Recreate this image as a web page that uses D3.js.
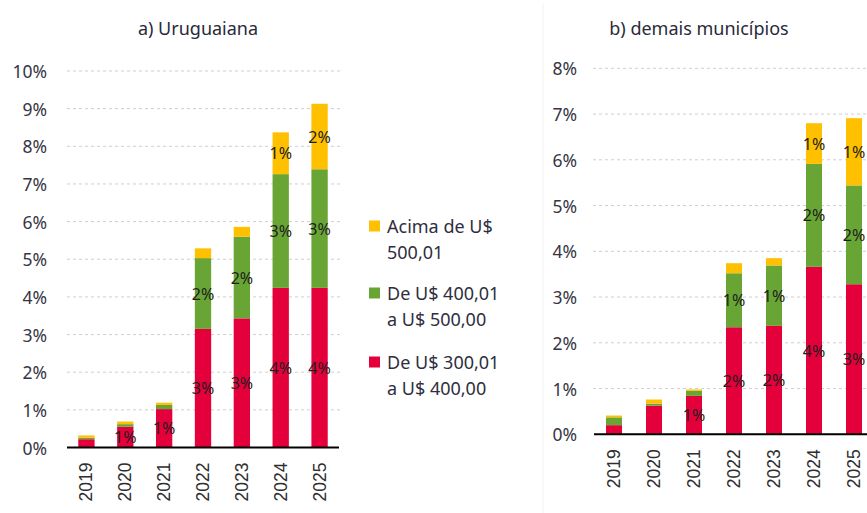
<!DOCTYPE html>
<html>
<head>
<meta charset="utf-8">
<script src="https://cdn.jsdelivr.net/npm/d3@7/dist/d3.min.js"></script>
<style>
  html, body { margin: 0; padding: 0; background: #ffffff; }
  svg { display: block; }
</style>
</head>
<body>
<svg id="chart" width="867" height="513"></svg>
<script>
// ---- data ----
const years = ['2019', '2020', '2021', '2022', '2023', '2024', '2025'];
const seriesNames = ['De U$ 300,01\na U$ 400,00', 'De U$ 400,01\na U$ 500,00', 'Acima de U$\n500,01'];

// a) Uruguaiana (% values)
const uru300to400 = [0.22, 0.55, 1.02, 3.15, 3.43, 4.24, 4.24];
const uru400to500 = [0.04, 0.07, 0.11, 1.88, 2.17, 3.02, 3.15];
const uruAbove500 = [0.06, 0.07, 0.06, 0.26, 0.26, 1.11, 1.74];
const uruLabels300 = ['', '1%', '1%', '3%', '3%', '4%', '4%'];
const uruLabels400 = ['', '', '', '2%', '2%', '3%', '3%'];
const uruLabelsAbove = ['', '', '', '', '', '1%', '2%'];
const uruTicks = [0, 1, 2, 3, 4, 5, 6, 7, 8, 9, 10];

// b) demais municípios (% values)
const dem300to400 = [0.20, 0.625, 0.84, 2.34, 2.37, 3.66, 3.28];
const dem400to500 = [0.17, 0.045, 0.11, 1.18, 1.32, 2.25, 2.16];
const demAbove500 = [0.04, 0.09, 0.03, 0.22, 0.16, 0.89, 1.47];
const demLabels300 = ['', '', '1%', '2%', '2%', '4%', '3%'];
const demLabels400 = ['', '', '', '1%', '1%', '2%', '2%'];
const demLabelsAbove = ['', '', '', '', '', '1%', '1%'];
const demTicks = [0, 1, 2, 3, 4, 5, 6, 7, 8];

// ---- styles ----
const colors = ['#E4003B', '#68A535', '#FFC000'];
const tickFont = '"Noto Sans", sans-serif';
const svg = d3.select('#chart');

// light panel border of right chart
svg.append('line')
  .attr('x1', 543).attr('x2', 543).attr('y1', 4).attr('y2', 513)
  .attr('stroke', '#f2f2f2').attr('stroke-width', 1);

function drawPanel(opt) {
  const g = svg.append('g');
  const x = d3.scaleBand().domain(years).range(opt.xRange)
    .paddingInner(opt.padIn).paddingOuter(opt.padIn / 2);
  const y = d3.scaleLinear().domain([0, d3.max(opt.ticks)]).range(opt.yRange);

  // gridlines
  g.append('g').selectAll('line').data(opt.ticks.filter(t => t > 0)).join('line')
    .attr('x1', opt.gridX[0]).attr('x2', opt.gridX[1])
    .attr('y1', d => y(d)).attr('y2', d => y(d))
    .attr('stroke', '#cfcfcf').attr('stroke-width', 1).attr('stroke-dasharray', '3,3');

  // y tick labels
  g.append('g').selectAll('text').data(opt.ticks).join('text')
    .attr('x', opt.labelX).attr('y', d => y(d))
    .attr('text-anchor', 'end').attr('dominant-baseline', 'central')
    .attr('font-family', tickFont).attr('font-size', 17.5)
    .attr('fill', '#353543')
    .text(d => d + '%');

  // stacked bars
  const rows = years.map((yr, i) => ({ year: yr, s0: opt.series[0][i], s1: opt.series[1][i], s2: opt.series[2][i] }));
  const stack = d3.stack().keys(['s0', 's1', 's2'])(rows);
  const labels = opt.labels;
  stack.forEach((layer, li) => {
    g.append('g').selectAll('rect').data(layer).join('rect')
      .attr('x', d => x(d.data.year))
      .attr('width', x.bandwidth())
      .attr('y', d => y(d[1]))
      .attr('height', d => y(d[0]) - y(d[1]))
      .attr('fill', colors[li]);
  });
  stack.forEach((layer, li) => {
    g.append('g').selectAll('text').data(layer).join('text')
      .attr('x', d => x(d.data.year) + x.bandwidth() / 2)
      .attr('y', d => (y(d[0]) + y(d[1])) / 2)
      .attr('text-anchor', 'middle').attr('dominant-baseline', 'central')
      .attr('font-family', tickFont).attr('font-size', 16)
      .attr('fill', '#1e1e1e')
      .text((d, i) => labels[li][i]);
  });

  // baseline
  g.append('line')
    .attr('x1', opt.xRange[0]).attr('x2', opt.xRange[1])
    .attr('y1', y(0)).attr('y2', y(0))
    .attr('stroke', '#000').attr('stroke-width', 2);

  // x labels (rotated)
  g.append('g').selectAll('text').data(years).join('text')
    .attr('transform', d => `translate(${x(d) + x.bandwidth() / 2 + 6},${y(0) + 15}) rotate(-90)`)
    .attr('text-anchor', 'end')
    .attr('font-family', '"Liberation Sans", Arial, sans-serif').attr('font-size', 17.5)
    .attr('fill', '#2e2e2e')
    .text(d => d);

  // title
  g.append('text')
    .attr('x', opt.titleX).attr('y', 28)
    .attr('text-anchor', 'middle').attr('dominant-baseline', 'central')
    .attr('font-family', tickFont).attr('font-size', 18)
    .attr('fill', '#2a2a3a')
    .text(opt.title);
}

drawPanel({
  title: 'a) Uruguaiana', titleX: 198,
  xRange: [67, 339], padIn: 0.58, yRange: [447.5, 71],
  gridX: [67, 340], labelX: 47, ticks: uruTicks,
  series: [uru300to400, uru400to500, uruAbove500],
  labels: [uruLabels300, uruLabels400, uruLabelsAbove]
});

drawPanel({
  title: 'b) demais municípios', titleX: 699,
  xRange: [594, 874], padIn: 0.6, yRange: [434.3, 68.3],
  gridX: [593, 874], labelX: 577, ticks: demTicks,
  series: [dem300to400, dem400to500, demAbove500],
  labels: [demLabels300, demLabels400, demLabelsAbove]
});

// legend
const legendItems = [
  { name: seriesNames[2], color: colors[2], y: 226 },
  { name: seriesNames[1], color: colors[1], y: 293 },
  { name: seriesNames[0], color: colors[0], y: 362 }
];
const lg = svg.append('g');
legendItems.forEach(it => {
  lg.append('rect').attr('x', 369).attr('y', it.y - 5.5).attr('width', 11).attr('height', 11).attr('fill', it.color);
  const t = lg.append('text').attr('font-family', tickFont).attr('font-size', 18).attr('fill', '#2e2e3e');
  it.name.split('\n').forEach((line, i) => {
    t.append('tspan').attr('x', 387).attr('y', it.y + i * 26).attr('dominant-baseline', 'central').text(line);
  });
});
</script>
</body>
</html>
